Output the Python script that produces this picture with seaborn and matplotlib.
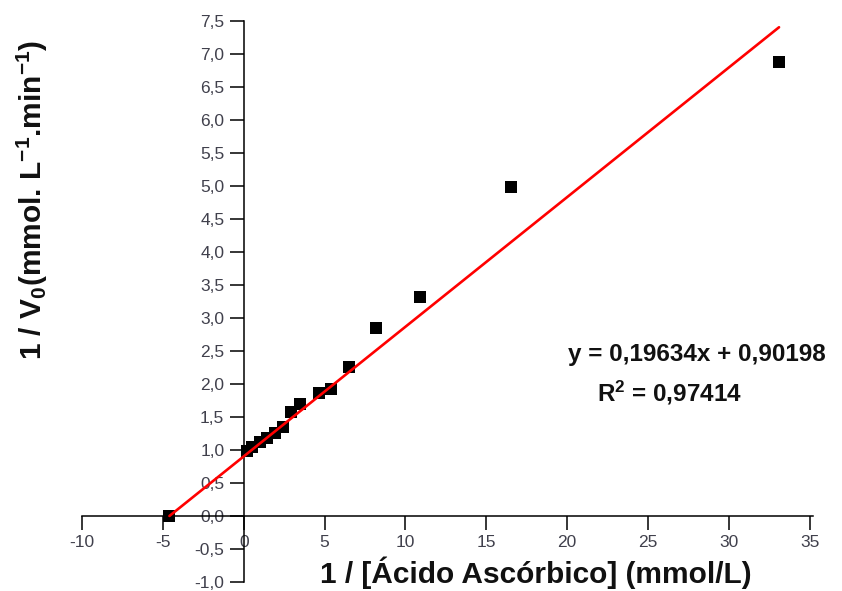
import numpy as np
import pandas as pd
import matplotlib
matplotlib.use("Agg")
import matplotlib.pyplot as plt
from matplotlib.ticker import MultipleLocator, FuncFormatter
import seaborn as sns

# Lineweaver-Burk data: 1/[S] and 1/V0
inv_substrate = [-4.594, 0.20, 0.51, 1.00, 1.44, 1.93, 2.42, 2.92, 3.47,
                 4.65, 5.39, 6.50, 8.17, 10.90, 16.50, 33.10]
inv_velocity = [0.00, 0.99, 1.04, 1.12, 1.18, 1.25, 1.34, 1.57, 1.70,
                1.86, 1.93, 2.26, 2.85, 3.32, 4.98, 6.88]

# Linear fit reported on the chart
slope = 0.19634
intercept = 0.90198
r_squared = 0.97414
fit_x_range = [-4.594, 33.10]

sns.set_theme(style="white")
plt.rcParams["font.family"] = ["Liberation Sans", "DejaVu Sans"]
plt.rcParams["mathtext.fontset"] = "custom"
plt.rcParams["mathtext.rm"] = "Liberation Sans:bold"
plt.rcParams["mathtext.bf"] = "Liberation Sans:bold"
plt.rcParams["mathtext.it"] = "Liberation Sans:bold"

fig = plt.figure(figsize=(8.42, 5.91), dpi=100)
ax = fig.add_axes([82 / 842, 9 / 591, 731 / 842, 561.3 / 591])

points = pd.DataFrame({"x": inv_substrate, "y": inv_velocity})
fit_x = np.array(fit_x_range)
fit = pd.DataFrame({"x": fit_x, "y": slope * fit_x + intercept})

sns.lineplot(data=fit, x="x", y="y", color="#ff0000", linewidth=1.9, ax=ax, zorder=3)
sns.scatterplot(data=points, x="x", y="y", marker="s", s=78, color="black",
                edgecolor="black", linewidth=0, ax=ax, zorder=2)

ax.set_xlim(-10, 35.2)
ax.set_ylim(-1.0, 7.5)
ax.set_xlabel("")
ax.set_ylabel("")

# axes crossing at the origin
ax.spines["left"].set_position(("data", 0))
ax.spines["bottom"].set_position(("data", 0))
ax.spines["top"].set_visible(False)
ax.spines["right"].set_visible(False)
for sp in ("left", "bottom"):
    ax.spines[sp].set_color("black")
    ax.spines[sp].set_linewidth(1.1)

ax.xaxis.set_major_locator(MultipleLocator(5))
ax.xaxis.set_minor_locator(MultipleLocator(2.5))
ax.yaxis.set_major_locator(MultipleLocator(0.5))
ax.yaxis.set_minor_locator(MultipleLocator(0.25))
ax.xaxis.set_major_formatter(FuncFormatter(lambda v, p: f"{v:.0f}"))
ax.yaxis.set_major_formatter(FuncFormatter(lambda v, p: f"{v:.1f}".replace(".", ",")))

tick_color = "#40404c"
ax.tick_params(axis="both", which="major", direction="out", length=10, width=1.1,
               color="black", labelsize=12.5, labelcolor=tick_color, pad=4)
ax.tick_params(axis="both", which="minor", direction="out", length=5, width=1.1,
               color="black")
ax.tick_params(axis="x", bottom=True, top=False)
ax.tick_params(axis="y", left=True, right=False)

fig.text(536 / 842, 1 - 573 / 591, "1 / [Ácido Ascórbico] (mmol/L)",
         ha="center", va="center", fontsize=21.5, fontweight="bold", color="#111111")
fig.text(32 / 842, 1 - 200 / 591,
         r"1 / V$_0$(mmol. L$^{-1}$.min$^{-1}$)",
         ha="center", va="center", rotation=90, fontsize=21.5, fontweight="bold",
         color="#111111")

eq = f"y = {slope:.5f}x + {intercept:.5f}".replace(".", ",")
ax.text(568 / 842, 1 - 355 / 591, eq, transform=fig.transFigure, ha="left",
        va="center", fontsize=17.5, fontweight="bold", color="#111111")
ax.text(597 / 842, 1 - 393 / 591, r"R$^2$ = " + f"{r_squared:.5f}".replace(".", ","),
        transform=fig.transFigure, ha="left", va="center", fontsize=17.5,
        fontweight="bold", color="#111111")

fig.savefig("out.png", dpi=100)
